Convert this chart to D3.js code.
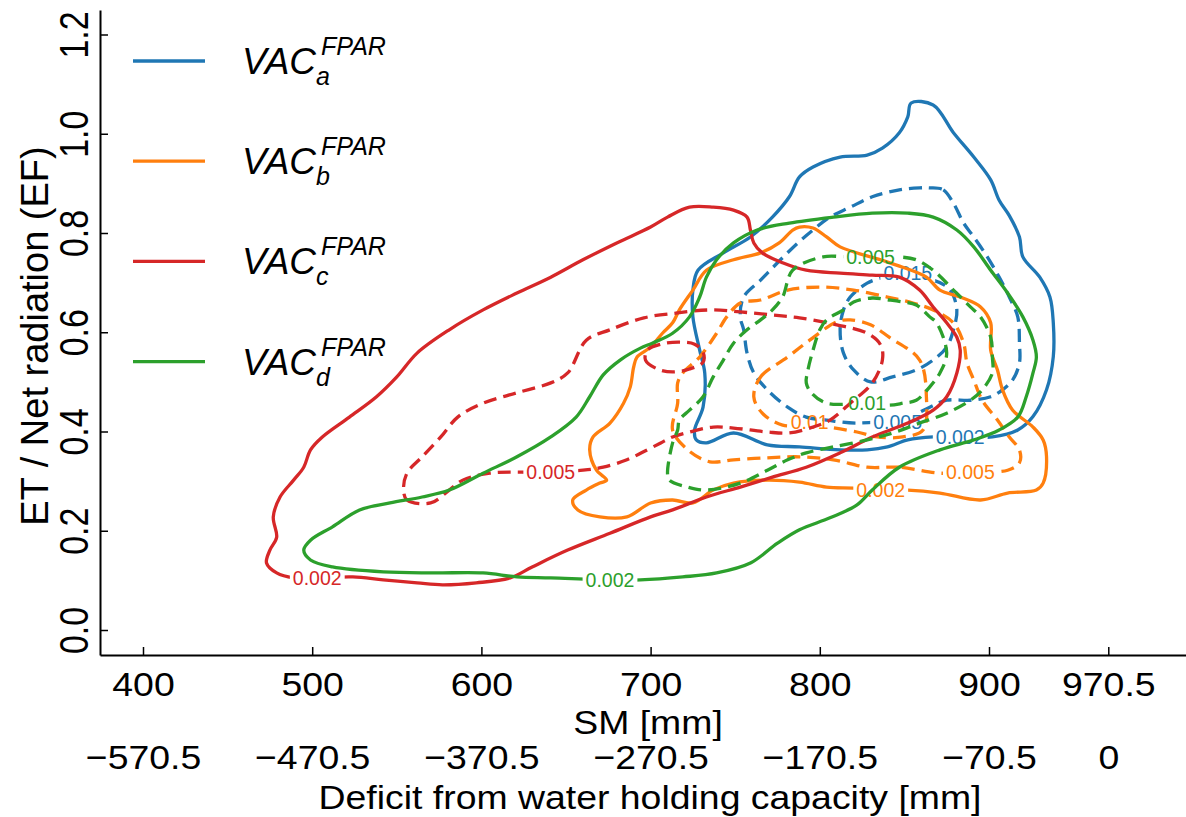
<!DOCTYPE html>
<html>
<head>
<meta charset="utf-8">
<script src="https://cdn.jsdelivr.net/npm/d3@7"></script>
<style>
  body { margin: 0; background: #fff; }
  svg { display: block; }
  text { font-family: "Liberation Sans", Arial, sans-serif; }
</style>
</head>
<body>
<div id="chart"></div>
<script>
const width = 1186;
const height = 817;

// ---- axes ----
const smTicks = [400, 500, 600, 700, 800, 900, 970.5];
const capacity = 970.5;            // water holding capacity, deficit = SM - capacity
const efTicks = [0, 0.2, 0.4, 0.6, 0.8, 1.0, 1.2];

// ---- series ----
const seriesNames = ["a", "b", "c", "d"];
const seriesColors = ["#1f77b4", "#ff7f0e", "#d62728", "#2ca02c"];

// contour rings, [SM mm, EF]
const vacA_002 = [[854,1.062],[867,1.058],[879,1.002],[891,0.953],[901,0.907],[906,0.866],[912,0.835],[918,0.792],[920,0.752],[930,0.711],[936,0.671],[938,0.619],[938,0.551],[934,0.484],[926,0.430],[917,0.403],[902,0.389],[883,0.389],[867,0.389],[852,0.383],[840,0.369],[828,0.363],[812,0.363],[788,0.369],[769,0.373],[749,0.397],[733,0.377],[727,0.383],[726,0.403],[731,0.449],[732,0.518],[729,0.564],[725,0.631],[725,0.685],[728,0.725],[743,0.760],[759,0.792],[772,0.832],[782,0.873],[788,0.913],[796,0.933],[812,0.953],[828,0.957],[837,0.971],[847,1.002],[852,1.034]];
const vacA_005 = [[865,0.891],[873,0.887],[879,0.860],[885,0.820],[891,0.792],[899,0.752],[906,0.711],[912,0.671],[917,0.631],[918,0.578],[918,0.538],[914,0.504],[908,0.484],[901,0.470],[889,0.463],[875,0.463],[865,0.449],[852,0.429],[822,0.417],[804,0.423],[792,0.429],[781,0.449],[769,0.484],[761,0.518],[757,0.558],[755,0.605],[753,0.631],[755,0.671],[765,0.705],[775,0.740],[787,0.780],[796,0.806],[806,0.832],[818,0.852],[831,0.873],[847,0.887],[859,0.891]];
const vacA_015 = [[840,0.711],[867,0.705],[877,0.685],[881,0.645],[879,0.605],[875,0.570],[867,0.544],[857,0.524],[843,0.510],[830,0.500],[820,0.524],[814,0.558],[812,0.605],[814,0.645],[818,0.671],[828,0.699],[836,0.709]];

const vacB_002 = [[788,0.812],[796,0.810],[804,0.792],[812,0.772],[836,0.746],[849,0.731],[863,0.711],[871,0.685],[883,0.671],[895,0.651],[901,0.619],[901,0.564],[905,0.524],[908,0.484],[914,0.443],[926,0.409],[932,0.383],[934,0.349],[932,0.296],[928,0.282],[911,0.276],[895,0.262],[871,0.276],[852,0.282],[836,0.282],[820,0.286],[804,0.288],[788,0.298],[769,0.302],[749,0.296],[737,0.282],[725,0.256],[713,0.262],[700,0.256],[686,0.228],[670,0.228],[657,0.242],[654,0.262],[662,0.282],[670,0.296],[674,0.302],[668,0.322],[664,0.363],[666,0.389],[676,0.417],[684,0.457],[688,0.490],[690,0.530],[692,0.550],[700,0.570],[707,0.598],[713,0.619],[717,0.645],[725,0.685],[733,0.725],[749,0.746],[765,0.760],[776,0.780],[784,0.806]];
const vacB_005 = [[871,0.316],[847,0.328],[828,0.328],[808,0.343],[788,0.349],[769,0.347],[749,0.343],[735,0.339],[722,0.363],[713,0.403],[716,0.457],[716,0.498],[719,0.518],[729,0.550],[739,0.598],[745,0.631],[753,0.659],[765,0.665],[781,0.685],[800,0.691],[820,0.685],[840,0.671],[855,0.659],[867,0.645],[879,0.619],[885,0.578],[887,0.538],[891,0.504],[896,0.463],[905,0.423],[912,0.389],[918,0.363],[918,0.337],[911,0.322],[889,0.318]];
const vacB_01 = [[761,0.470],[765,0.510],[781,0.550],[794,0.584],[810,0.621],[818,0.625],[830,0.615],[841,0.590],[859,0.544],[863,0.470],[861,0.403],[849,0.389],[834,0.389],[822,0.399],[795,0.413],[778,0.413],[766,0.437]];

const vacC_002 = [[723,0.852],[737,0.852],[749,0.846],[757,0.832],[759,0.806],[761,0.780],[766,0.760],[778,0.740],[792,0.725],[812,0.719],[831,0.715],[847,0.711],[859,0.685],[867,0.651],[875,0.619],[881,0.590],[883,0.564],[881,0.518],[875,0.470],[867,0.443],[852,0.417],[831,0.389],[812,0.357],[792,0.328],[772,0.308],[753,0.288],[733,0.268],[713,0.242],[700,0.228],[676,0.195],[651,0.161],[630,0.127],[617,0.105],[597,0.095],[577,0.091],[562,0.095],[542,0.101],[524,0.107],[503,0.105],[489,0.105],[479,0.115],[473,0.135],[475,0.161],[479,0.187],[477,0.228],[481,0.268],[489,0.302],[495,0.328],[499,0.363],[506,0.389],[522,0.429],[538,0.470],[550,0.510],[562,0.558],[581,0.605],[601,0.645],[621,0.679],[641,0.711],[660,0.746],[680,0.780],[700,0.812],[710,0.832]];
const vacC_005 = [[554,0.282],[556,0.262],[570,0.256],[581,0.282],[589,0.302],[605,0.316],[641,0.318],[660,0.322],[672,0.328],[686,0.343],[698,0.363],[706,0.377],[713,0.389],[723,0.399],[737,0.409],[749,0.407],[769,0.399],[782,0.397],[796,0.409],[806,0.423],[818,0.457],[831,0.498],[837,0.544],[836,0.574],[828,0.598],[810,0.615],[788,0.629],[771,0.635],[753,0.641],[735,0.645],[716,0.639],[696,0.629],[676,0.605],[662,0.584],[651,0.518],[641,0.498],[621,0.478],[601,0.457],[586,0.429],[576,0.389],[565,0.349],[556,0.316]];
const vacC_005hole = [[698,0.564],[697,0.544],[704,0.526],[713,0.520],[723,0.526],[731,0.540],[731,0.560],[726,0.576],[717,0.580],[706,0.576]];

const vacD_002 = [[852,0.840],[831,0.840],[808,0.832],[782,0.820],[763,0.806],[749,0.780],[739,0.746],[733,0.711],[729,0.671],[723,0.631],[713,0.598],[701,0.578],[694,0.568],[682,0.544],[672,0.514],[664,0.470],[656,0.429],[641,0.389],[621,0.349],[601,0.316],[581,0.282],[565,0.268],[546,0.256],[528,0.242],[512,0.208],[499,0.181],[495,0.161],[499,0.141],[512,0.127],[542,0.117],[571,0.115],[601,0.115],[621,0.107],[641,0.105],[676,0.101],[694,0.101],[719,0.107],[739,0.115],[759,0.135],[775,0.175],[788,0.202],[806,0.226],[822,0.252],[831,0.282],[847,0.328],[871,0.363],[891,0.383],[906,0.403],[917,0.429],[922,0.470],[926,0.518],[928,0.550],[926,0.584],[920,0.631],[911,0.679],[901,0.725],[891,0.772],[881,0.806],[867,0.832]];
const vacD_005 = [[784,0.725],[802,0.752],[816,0.752],[830,0.752],[846,0.752],[857,0.746],[867,0.725],[879,0.685],[889,0.651],[895,0.631],[901,0.590],[902,0.550],[902,0.518],[896,0.484],[889,0.463],[875,0.437],[859,0.417],[843,0.397],[828,0.383],[808,0.369],[792,0.357],[781,0.343],[769,0.322],[753,0.296],[733,0.282],[722,0.288],[711,0.302],[710,0.316],[713,0.377],[716,0.403],[717,0.423],[723,0.443],[731,0.470],[737,0.510],[743,0.544],[749,0.578],[757,0.605],[765,0.625],[772,0.645],[778,0.671]];
const vacD_01 = [[820,0.661],[814,0.645],[804,0.625],[800,0.605],[796,0.564],[793,0.524],[792,0.498],[795,0.478],[804,0.457],[828,0.457],[841,0.453],[849,0.457],[857,0.463],[865,0.490],[871,0.518],[875,0.558],[869,0.619],[865,0.631],[857,0.655],[849,0.661],[841,0.665],[831,0.669]];

// inline contour labels [SM, EF, text]
const labelsA = [[883, 0.389, "0.002"], [846, 0.419, "0.005"], [852, 0.719, "0.015"]];
const labelsB = [[836, 0.282, "0.002"], [889, 0.318, "0.005"], [794, 0.419, "0.01"]];
const labelsC = [[503, 0.105, "0.002"], [641, 0.318, "0.005"]];
const labelsD = [[676, 0.101, "0.002"], [830, 0.752, "0.005"], [828, 0.457, "0.01"]];

const contours = [
  { series: "a", ring: vacA_002, dashed: false },
  { series: "a", ring: vacA_005, dashed: true },
  { series: "a", ring: vacA_015, dashed: true },
  { series: "b", ring: vacB_002, dashed: false },
  { series: "b", ring: vacB_005, dashed: true },
  { series: "b", ring: vacB_01, dashed: true },
  { series: "c", ring: vacC_002, dashed: false },
  { series: "c", ring: vacC_005, dashed: true },
  { series: "c", ring: vacC_005hole, dashed: true },
  { series: "d", ring: vacD_002, dashed: false },
  { series: "d", ring: vacD_005, dashed: true },
  { series: "d", ring: vacD_01, dashed: true }
];
const labelSets = { a: labelsA, b: labelsB, c: labelsC, d: labelsD };

// =======================
// scales
// =======================
const x = d3.scaleLinear().domain([400, 900]).range([143, 989]);
x.domain([x.invert(100), x.invert(width)]).range([100, width]);
const y = d3.scaleLinear().domain([0, 1.2]).range([630, 34.5]);
y.domain([y.invert(655), y.invert(10)]).range([655, 10]);

const svg = d3.select("#chart")
  .append("svg")
  .attr("width", width)
  .attr("height", height)
  .style("background-color", "#fff");

const defs = svg.append("defs");

const axisFont = 34;
const stretch = 1.1;   // the figure's lettering is a bit wider than Arial

// x axis (SM)
const xAxisG = svg.append("g")
  .attr("transform", "translate(0,655)")
  .call(d3.axisBottom(x).tickValues(smTicks).tickSize(-8).tickSizeOuter(0).tickFormat(d => String(d)));
xAxisG.select(".domain").attr("stroke-width", 2);
xAxisG.selectAll(".tick line").attr("stroke-width", 1.5);
xAxisG.selectAll(".tick text")
  .attr("y", 29).attr("dy", "0.36em")
  .attr("transform", `scale(${stretch},1)`)
  .attr("font-size", axisFont).attr("font-family", "Liberation Sans, Arial, sans-serif");

// second row of labels: deficit from capacity
const defAxisG = svg.append("g")
  .attr("transform", "translate(0,655)")
  .call(d3.axisBottom(x).tickValues(smTicks).tickSize(0).tickFormat(d => {
    const v = d - capacity;
    return v === 0 ? "0" : d3.format(".1f")(v).replace("-", "\u2212");
  }));
defAxisG.select(".domain").remove();
defAxisG.selectAll(".tick text")
  .attr("y", 102).attr("dy", "0.36em")
  .attr("transform", `scale(${stretch},1)`)
  .attr("font-size", axisFont).attr("font-family", "Liberation Sans, Arial, sans-serif");

svg.append("text")
  .attr("transform", `translate(648,722) scale(${stretch},1)`)
  .attr("dy", "0.36em")
  .attr("text-anchor", "middle").attr("font-size", axisFont)
  .text("SM [mm]");
svg.append("text")
  .attr("transform", `translate(650,797) scale(${stretch},1)`)
  .attr("dy", "0.36em")
  .attr("text-anchor", "middle").attr("font-size", axisFont)
  .text("Deficit from water holding capacity [mm]");

// y axis (EF)
const yAxisG = svg.append("g")
  .attr("transform", "translate(100,0)")
  .call(d3.axisLeft(y).tickValues(efTicks).tickSize(-8).tickSizeOuter(0).tickFormat(d3.format(".1f")));
yAxisG.select(".domain").attr("stroke-width", 2);
yAxisG.selectAll(".tick line").attr("stroke-width", 1.5);
yAxisG.selectAll(".tick text")
  .attr("x", 0).attr("y", 0).attr("dy", "0.36em")
  .attr("transform", "translate(-27,0) scale(1.2,1) rotate(-90)")
  .attr("text-anchor", "middle")
  .attr("font-size", axisFont).attr("font-family", "Liberation Sans, Arial, sans-serif");

svg.append("text")
  .attr("transform", "translate(34,336) rotate(-90)")
  .attr("dy", "0.36em")
  .attr("text-anchor", "middle").attr("font-size", 38)
  .text("ET / Net radiation (EF)");

// =======================
// contours (labels cut their own lines, like inline clabel)
// =======================
const line = d3.line()
  .x(d => x(d[0]))
  .y(d => y(d[1]))
  .curve(d3.curveCatmullRomClosed.alpha(0.5));

seriesNames.forEach((s, i) => {
  const color = seriesColors[i];
  const maskId = `cut-${s}`;
  const mask = defs.append("mask")
    .attr("id", maskId)
    .attr("maskUnits", "userSpaceOnUse")
    .attr("x", 0).attr("y", 0).attr("width", width).attr("height", height);
  mask.append("rect").attr("width", width).attr("height", height).attr("fill", "#fff");

  const g = svg.append("g").attr("mask", `url(#${maskId})`);
  contours.filter(c => c.series === s).forEach(c => {
    g.append("path")
      .attr("d", line(c.ring))
      .attr("fill", "none")
      .attr("stroke", color)
      .attr("stroke-width", 3.3)
      .attr("stroke-dasharray", c.dashed ? "13,7" : null);
  });

  labelSets[s].forEach(l => {
    const t = svg.append("text")
      .attr("x", x(l[0])).attr("y", y(l[1])).attr("dy", "0.36em")
      .attr("text-anchor", "middle")
      .attr("font-size", 19.5)
      .attr("fill", color)
      .text(l[2]);
    const bw = t.node().getComputedTextLength() + 6;
    mask.append("rect")
      .attr("x", x(l[0]) - bw / 2).attr("y", y(l[1]) - 9)
      .attr("width", bw).attr("height", 18)
      .attr("fill", "#000");
  });
});

// =======================
// legend
// =======================
const legend = svg.append("g");
seriesNames.forEach((s, i) => {
  const ly = 61 + i * 100.2;
  legend.append("line")
    .attr("x1", 133).attr("x2", 205).attr("y1", ly).attr("y2", ly)
    .attr("stroke", seriesColors[i]).attr("stroke-width", 3.3);
  const vac = legend.append("text")
    .attr("x", 242).attr("y", ly + 13)
    .attr("font-size", 37).attr("font-style", "italic")
    .text("VAC");
  const w = vac.node().getComputedTextLength();
  legend.append("text")
    .attr("x", 242 + w + 5).attr("y", ly - 6)
    .attr("font-size", 25).attr("font-style", "italic")
    .text("FPAR");
  legend.append("text")
    .attr("x", 242 + w).attr("y", ly + 24)
    .attr("font-size", 25).attr("font-style", "italic")
    .text(s);
});
</script>
</body>
</html>
